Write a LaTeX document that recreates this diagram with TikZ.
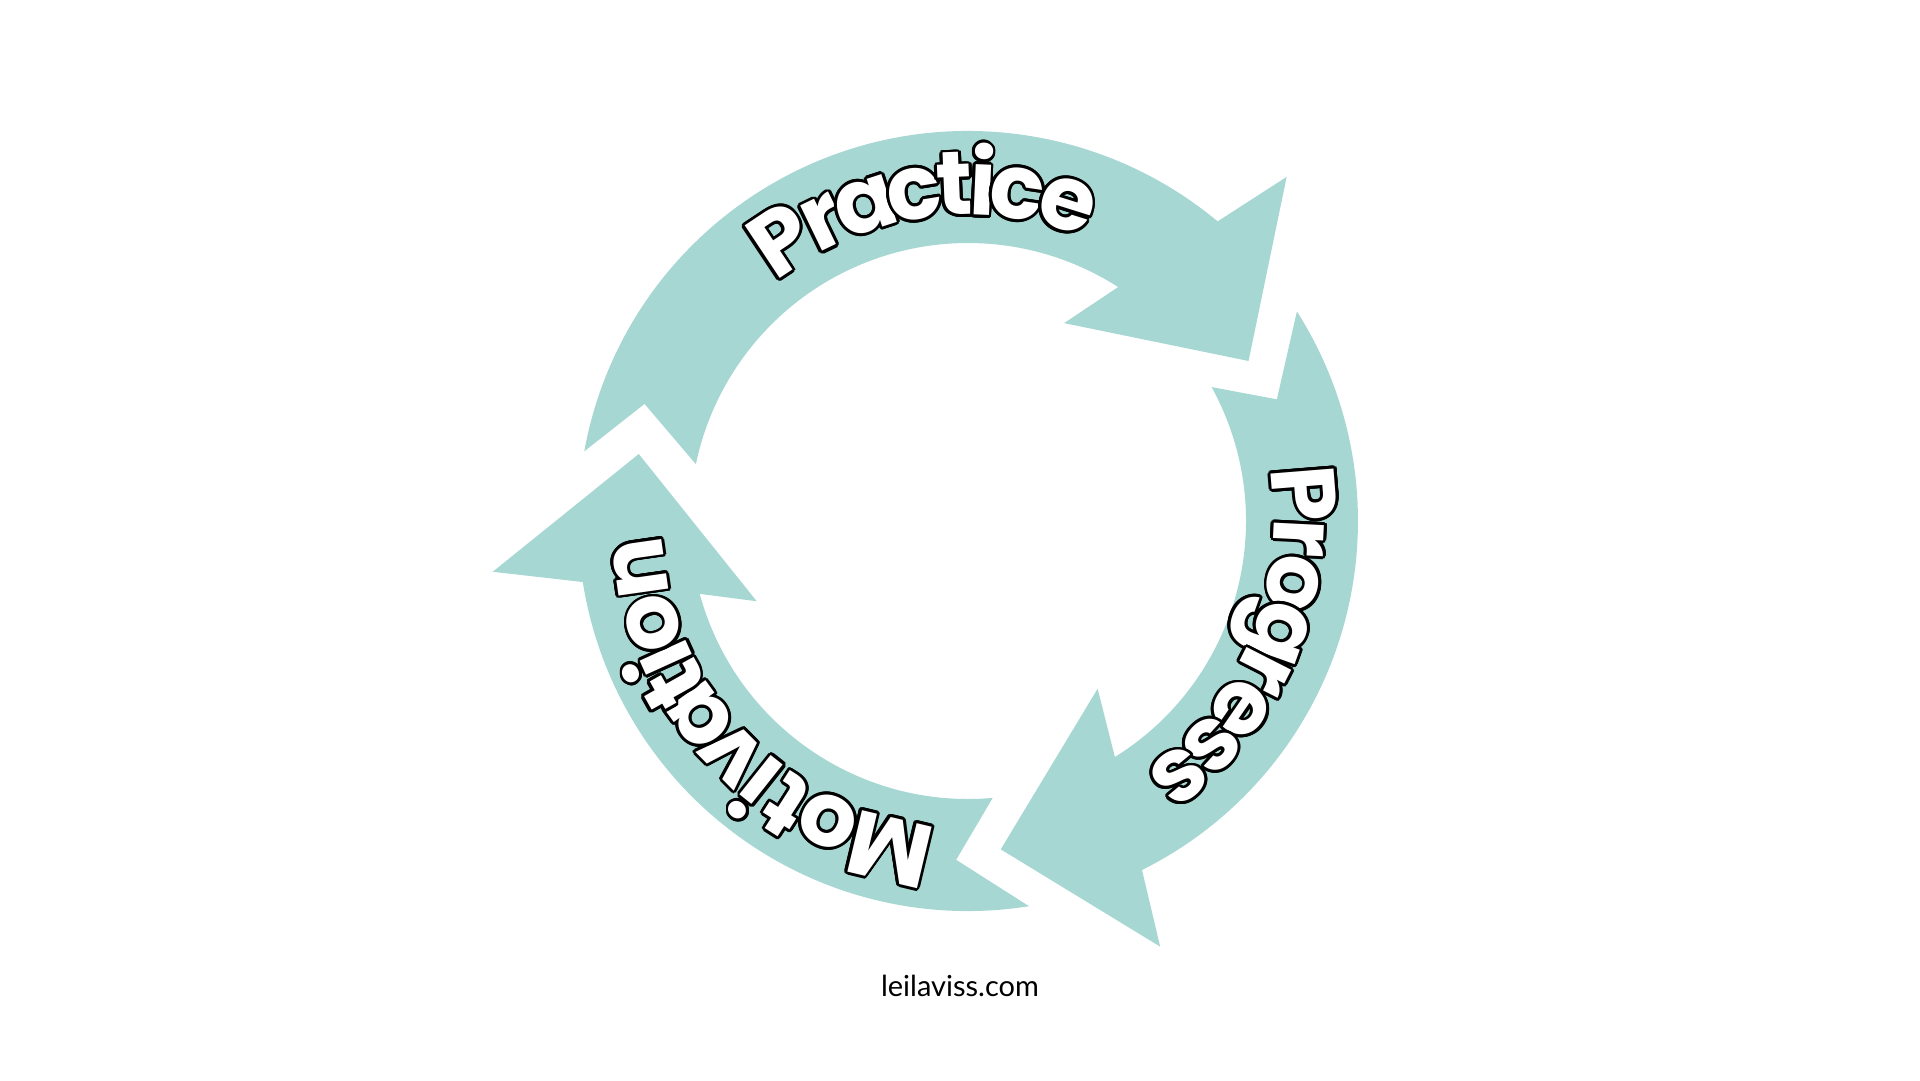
\documentclass[tikz,border=0pt]{standalone}
\usepackage{fontspec}
\newfontfamily\labelfont{Poppins}
\newfontfamily\sitefont{Lato}
\definecolor{cycleteal}{RGB}{166,215,211}

% white letter with a black rim (copies shifted round a small circle)
\newcommand\ringletter[1]{\rlap{\color{black}\foreach \k in {0,20,...,340}{%
    \pgfmathsetmacro\dx{2.8*cos(\k)}\pgfmathsetmacro\dy{2.8*sin(\k)}%
    \rlap{\kern\dx pt\raisebox{\dy pt}{#1}}}}#1}

\begin{document}
\begin{tikzpicture}[x=1pt,y=1pt,
    arrowpart/.style={fill=cycleteal},
    ringtext/.style={anchor=base, inner sep=0pt, text=white,
        font=\labelfont\bfseries\fontsize{90}{90}\selectfont}]

    \useasboundingbox (-968,-559) rectangle (952,521);

    % practice arrow
    \fill[arrowpart] (169.7:390) arc (169.7:50.2:390) -- (47.2:469) -- (29.7:323) -- (64.1:220)
        -- (57.3:278) arc (57.3:168.2:278) -- (160.1:344) -- cycle;
    % progress arrow
    \fill[arrowpart] (32.5:390) arc (32.5:-63.5:390) -- (-65.7:467) -- (-84.3:330) -- (-52.3:212)
        -- (-58.1:278) arc (-58.1:28.8:278) -- (21.5:332) -- cycle;
    % motivation arrow
    \fill[arrowpart] (-81:390) arc (-81:-171:390) -- (-173.9:478) -- (-191.5:336) -- (-159.2:226)
        -- (-164.8:278) arc (-164.8:-84.9:278) -- (-92:339) -- cycle;

    % labels, letter by letter round the ring
    \foreach \ch/\ang [count=\i] in {P/123.6,r/115.8,a/108,c/99.3,t/92.3,i/87.5,c/81.5,e/72.6}
        \node[ringtext, rotate=\ang-90] (practice\i) at (\ang:306) {\ringletter{\ch}};
    \foreach \ch/\ang [count=\i] in {P/4.6,r/-2.9,o/-10.9,g/-19.7,r/-27,e/-34.6,s/-42.6,s/-50.4}
        \node[ringtext, rotate=\ang-90] (progress\i) at (\ang:306) {\ringletter{\ch}};
    \foreach \ch/\ang [count=\i] in {M/-103.4,o/-115,t/-122.6,i/-128.5,v/-135.3,a/-144,t/-150.7,i/-155.6,o/-162,n/-171.9}
        \node[ringtext, rotate=\ang-90] (motivation\i) at (\ang:306) {\ringletter{\ch}};

    \node[anchor=base] (site) at (-8,-475) {\sitefont\fontsize{29}{29}\selectfont leilaviss.com};

\end{tikzpicture}
\end{document}
